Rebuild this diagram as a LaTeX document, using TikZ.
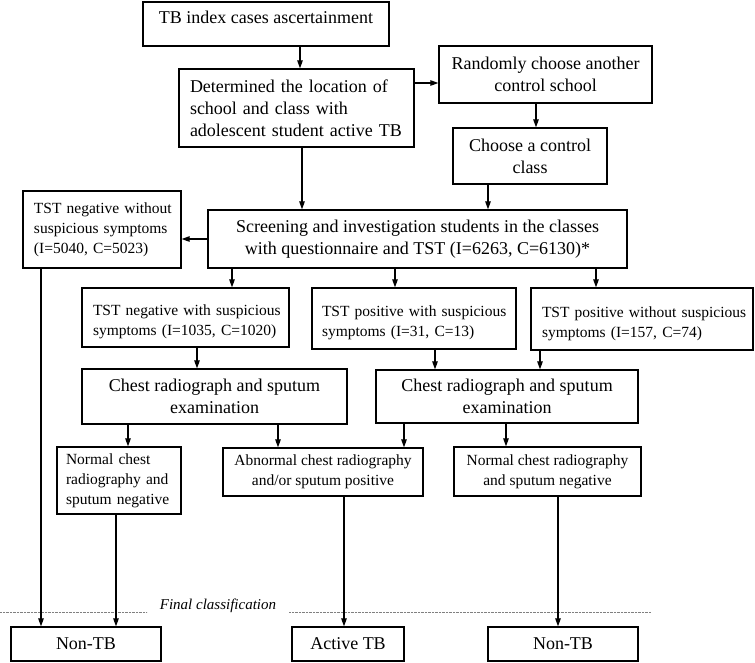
\documentclass[tikz,border=0pt]{standalone}
\usepackage{fontspec}
\setmainfont{Liberation Serif}
\usetikzlibrary{arrows.meta}
\begin{document}
\begin{tikzpicture}[x=1pt,y=-1pt,
 box/.style={draw, line width=1.3pt, inner sep=0pt, align=center},
 big/.style={font=\fontsize{18}{22}\selectfont},
 sml/.style={font=\fontsize{15.5}{20}\selectfont},
 lbox/.style={align=left, inner xsep=11pt},
 arr/.style={line width=1.1pt, -{Triangle[length=8pt,width=5.5pt]}},
 fin/.style={gray, line width=0.9pt, dash pattern=on 0.7pt off 0.7pt}]
\useasboundingbox (0,0) rectangle (755,662);

\node[box,big,minimum width=246pt,minimum height=44pt,text height=13pt,text depth=15pt] (idx) at (266,24) {TB index cases ascertainment};
\node[box,big,lbox,minimum width=235pt,minimum height=78pt,text width=213pt] (det) at (296.5,108) {\mbox{Determined the location of}\\\mbox{school and class with}\\\mbox{adolescent student active TB}};
\node[box,big,minimum width=213pt,minimum height=57pt] (rnd) at (545.5,74.5) {Randomly choose another\\control school};
\node[box,big,minimum width=154pt,minimum height=56pt] (cho) at (530,156) {Choose a control\\class};
\node[box,sml,lbox,minimum width=158pt,minimum height=77pt,text width=136pt] (neg0) at (102,229.5) {\mbox{TST negative without}\\\mbox{suspicious symptoms}\\\mbox{(I=5040, C=5023)}};
\node[box,big,minimum width=419pt,minimum height=58pt] (scr) at (417.5,239) {Screening and investigation students in the classes\\with questionnaire and TST (I=6263, C=6130)*};
\node[box,sml,lbox,minimum width=207pt,minimum height=59pt,text width=185pt,text depth=14pt] (negs) at (185.5,317.5) {\mbox{TST negative with suspicious}\\\mbox{symptoms (I=1035, C=1020)}};
\node[box,sml,lbox,minimum width=204pt,minimum height=61pt,text width=184pt,inner xsep=10pt,text depth=14pt] (poss) at (414,318.5) {\mbox{TST positive with suspicious}\\\mbox{symptoms (I=31, C=13)}};
\node[box,sml,lbox,minimum width=222pt,minimum height=62pt,text width=200pt,text depth=14pt] (posn) at (642,319) {\mbox{TST positive without suspicious}\\\mbox{symptoms (I=157, C=74)}};
\node[box,big,minimum width=265pt,minimum height=55pt] (ch1) at (214.5,396.5) {Chest radiograph and sputum\\examination};
\node[box,big,minimum width=262pt,minimum height=53pt] (ch2) at (507,396.5) {Chest radiograph and sputum\\examination};
\node[box,sml,lbox,minimum width=124pt,minimum height=67pt,text width=106pt,inner xsep=9pt] (nor1) at (119,480.5) {\mbox{Normal chest}\\\mbox{radiography and}\\\mbox{sputum negative}};
\node[box,sml,minimum width=200pt,minimum height=48pt] (abn) at (323,472) {Abnormal chest radiography\\and/or sputum positive};
\node[box,sml,minimum width=187pt,minimum height=49pt] (nor2) at (547.5,471.5) {Normal chest radiography\\and sputum negative};
\node[box,big,minimum width=150pt,minimum height=34pt] (nt1) at (86,644) {Non-TB};
\node[box,big,minimum width=112pt,minimum height=34pt] (act) at (348,644) {Active TB};
\node[box,big,minimum width=150pt,minimum height=34pt] (nt2) at (563,644) {Non-TB};

\node[font=\itshape\fontsize{15}{18}\selectfont, inner sep=0pt] (fc) at (218,606) {Final classification};
\draw[fin] (0,612) -- (147,612);
\draw[fin] (289,612) -- (651,612);

\draw[arr] ([xshift=34pt]idx.south) -- ([xshift=3.5pt]det.north);
\draw[arr] ([yshift=25pt]det.east) -- ([yshift=-8.5pt]rnd.west);
\draw[arr] ([xshift=-9.5pt]rnd.south) -- ([xshift=6pt]cho.north);
\draw[arr] ([xshift=5.5pt]det.south) -- ([xshift=-115.5pt]scr.north);
\draw[arr] ([xshift=-42pt]cho.south) -- ([xshift=70.5pt]scr.north);
\draw[arr] (scr.west) -- ([yshift=-9.5pt]neg0.east);
\draw[arr] ([xshift=-185.5pt]scr.south) -- ([xshift=46.5pt]negs.north);
\draw[arr] ([xshift=-22.5pt]scr.south) -- ([xshift=-19pt]poss.north);
\draw[arr] ([xshift=178.5pt]scr.south) -- ([xshift=-46pt]posn.north);
\draw[arr] ([xshift=11.5pt]negs.south) -- ([xshift=-17.5pt]ch1.north);
\draw[arr] ([xshift=21pt]poss.south) -- ([xshift=-72pt]ch2.north);
\draw[arr] ([xshift=-102pt]posn.south) -- ([xshift=33pt]ch2.north);
\draw[arr] ([xshift=-86.5pt]ch1.south) -- ([xshift=9pt]nor1.north);
\draw[arr] ([xshift=63.5pt]ch1.south) -- ([xshift=-45pt]abn.north);
\draw[arr] ([xshift=-103pt]ch2.south) -- ([xshift=81pt]abn.north);
\draw[arr] ([xshift=-1pt]ch2.south) -- ([xshift=-41.5pt]nor2.north);
\draw[arr] ([xshift=-61pt]neg0.south) -- ([xshift=-45pt]nt1.north);
\draw[arr] ([xshift=-3pt]nor1.south) -- ([xshift=30pt]nt1.north);
\draw[arr] ([xshift=21pt]abn.south) -- ([xshift=-4pt]act.north);
\draw[arr] ([xshift=10.5pt]nor2.south) -- ([xshift=-5pt]nt2.north);
\end{tikzpicture}
\end{document}
